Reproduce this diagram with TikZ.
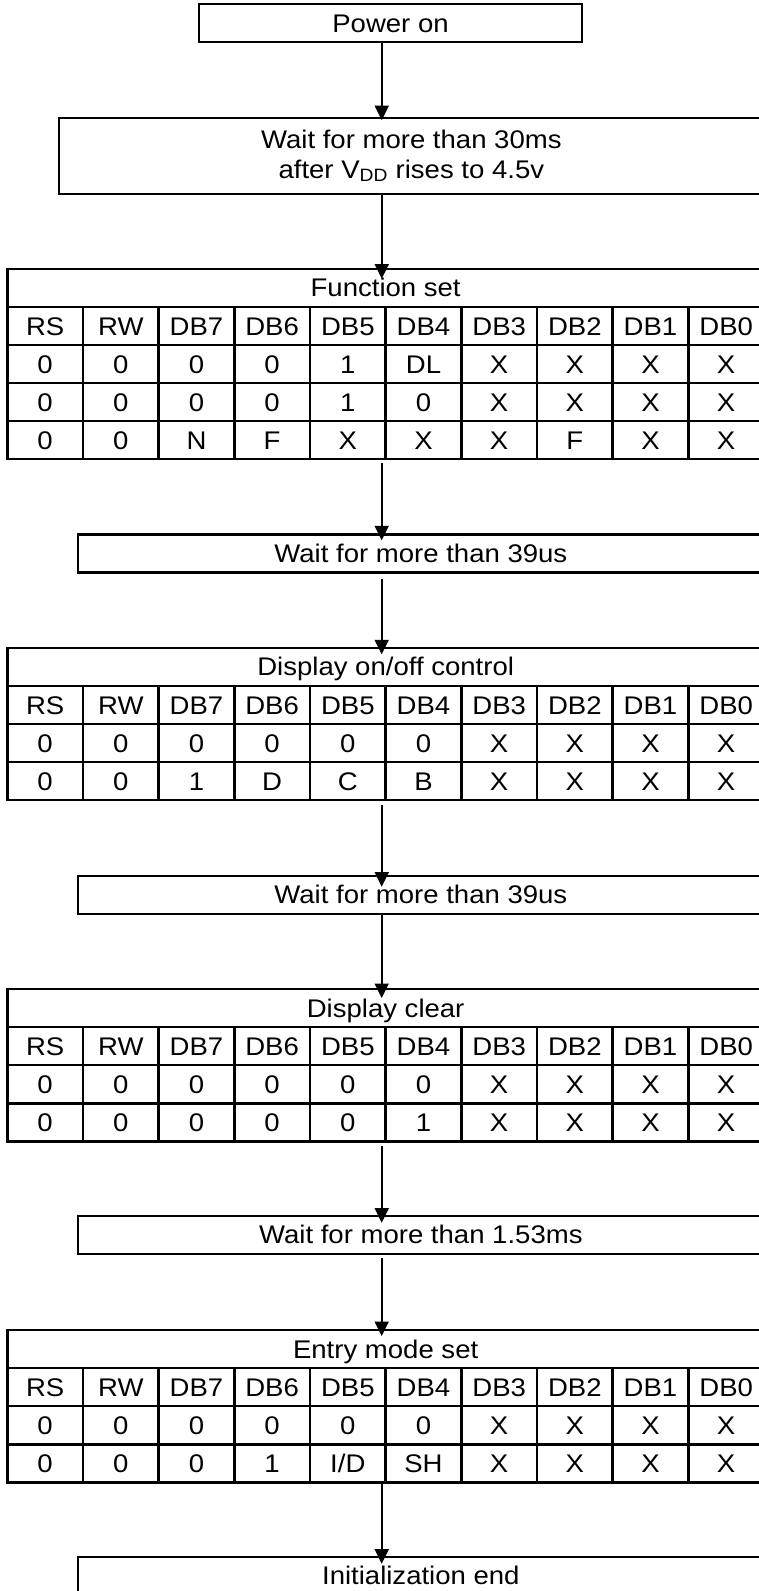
\documentclass[tikz,border=0pt]{standalone}
\usepackage{fontspec}
\setmainfont{Liberation Sans}[FakeStretch=1.08]
\usetikzlibrary{arrows.meta}
\newcommand\tablerow[4]{%
  \foreach \txt [count=\c] in {#4} {%
    \node[cell] (#1-#2-\c) at ({7.3+(\c-1)*75.67},{-(#3)-#2*38.1}) {\txt};}}
\begin{document}
\begin{tikzpicture}[x=1pt,y=1pt,
  every node/.style={font=\fontsize{25.5}{30}\selectfont, inner sep=0pt, outer sep=0pt},
  box/.style={draw, line width=2.4pt, rectangle, anchor=north west, text height=18.3pt, text depth=0pt},
  wbox/.style={box, minimum width=686.3pt, minimum height=38pt},
  ttl/.style={box, minimum width=756.7pt, minimum height=38.1pt},
  cell/.style={box, minimum width=75.67pt, minimum height=38.1pt},
  arr/.style={line width=1.6pt, -{Triangle[length=14.5pt,width=14pt]}}]
\useasboundingbox (0,0) rectangle (759,-1591);
\clip (0,0) rectangle (759,-1591);
\fill[white] (0,0) rectangle (759,-1591);
\coordinate (ax) at (381.7,0);

% Power on
\node[box, minimum width=383pt, minimum height=38pt] (pw) at (199,-4) {Power on};
% Wait 30 ms
\node[draw, line width=2.4pt, anchor=north west, minimum width=705.3pt, minimum height=76pt, align=center] (w1) at (58.7,-117.7) {Wait for more than 30ms\\after V\textsubscript{DD} rises to 4.5v};

% Function set
\node[ttl] (fs) at (7.3,-268.7) {Function set};
\tablerow{fs}{1}{268.7}{RS,RW,DB7,DB6,DB5,DB4,DB3,DB2,DB1,DB0}
\tablerow{fs}{2}{268.7}{0,0,0,0,1,DL,X,X,X,X}
\tablerow{fs}{3}{268.7}{0,0,0,0,1,0,X,X,X,X}
\tablerow{fs}{4}{268.7}{0,0,N,F,X,X,X,F,X,X}

\node[wbox] (w2) at (77.7,-534.3) {Wait for more than 39us};

% Display on/off control
\node[ttl] (dp) at (7.3,-647.7) {Display on/off control};
\tablerow{dp}{1}{647.7}{RS,RW,DB7,DB6,DB5,DB4,DB3,DB2,DB1,DB0}
\tablerow{dp}{2}{647.7}{0,0,0,0,0,0,X,X,X,X}
\tablerow{dp}{3}{647.7}{0,0,1,D,C,B,X,X,X,X}

\node[wbox] (w3) at (77.7,-875.7) {Wait for more than 39us};

% Display clear
\node[ttl] (dc) at (7.3,-989) {Display clear};
\tablerow{dc}{1}{989}{RS,RW,DB7,DB6,DB5,DB4,DB3,DB2,DB1,DB0}
\tablerow{dc}{2}{989}{0,0,0,0,0,0,X,X,X,X}
\tablerow{dc}{3}{989}{0,0,0,0,0,1,X,X,X,X}

\node[wbox] (w4) at (77.7,-1215.7) {Wait for more than 1.53ms};

% Entry mode set
\node[ttl] (em) at (7.3,-1330) {Entry mode set};
\tablerow{em}{1}{1330}{RS,RW,DB7,DB6,DB5,DB4,DB3,DB2,DB1,DB0}
\tablerow{em}{2}{1330}{0,0,0,0,0,0,X,X,X,X}
\tablerow{em}{3}{1330}{0,0,0,1,I/D,SH,X,X,X,X}

\node[wbox] (ie) at (77.7,-1556.7) {Initialization end};

% connectors
\draw[arr, shorten >=-2.5pt] (pw.south -| ax) -- (w1.north -| ax);
\draw[arr, shorten >=-10pt] (w1.south -| ax) -- (fs.north -| ax);
\draw[arr, shorten <=3.4pt, shorten >=-6pt] (fs-4-1.south -| ax) -- (w2.north -| ax);
\draw[arr, shorten <=6.6pt, shorten >=-6.6pt] (w2.south -| ax) -- (dp.north -| ax);
\draw[arr, shorten <=5pt, shorten >=-11pt] (dp-3-1.south -| ax) -- (w3.north -| ax);
\draw[arr, shorten >=-9pt] (w3.south -| ax) -- (dc.north -| ax);
\draw[arr, shorten <=5pt, shorten >=-7pt] (dc-3-1.south -| ax) -- (w4.north -| ax);
\draw[arr, shorten <=4.6pt, shorten >=-6pt] (w4.south -| ax) -- (em.north -| ax);
\draw[arr, shorten <=1.3pt, shorten >=-7pt] (em-3-1.south -| ax) -- (ie.north -| ax);
\end{tikzpicture}
\end{document}
